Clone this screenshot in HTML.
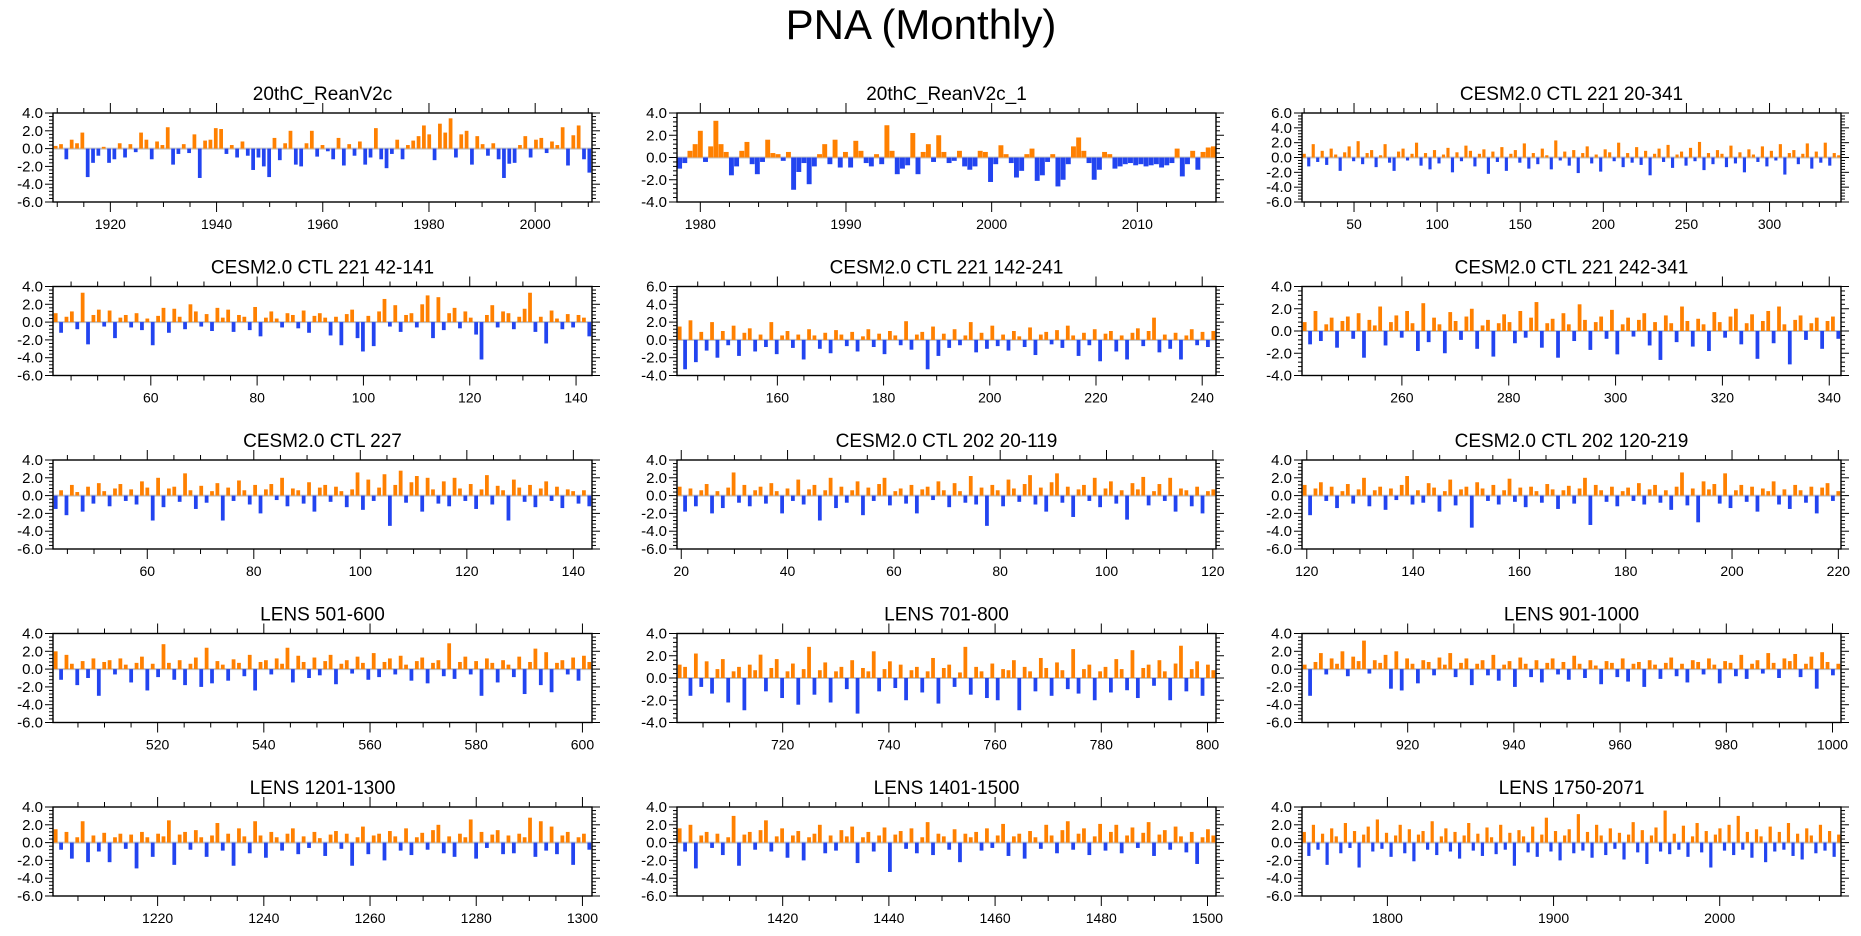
<!DOCTYPE html>
<html><head><meta charset="utf-8"><style>
html,body{margin:0;padding:0;background:#fff;}
svg{display:block;font-family:"Liberation Sans",Arial,sans-serif;}
</style></head><body>
<svg id="fig" width="1861" height="936" viewBox="0 0 1861 936" xmlns="http://www.w3.org/2000/svg">
<text x="921" y="39" font-size="42" text-anchor="middle" fill="#000">PNA (Monthly)</text>
</svg>
<script>
const titles = ["20thC_ReanV2c","20thC_ReanV2c_1","CESM2.0 CTL 221 20-341","CESM2.0 CTL 221 42-141","CESM2.0 CTL 221 142-241","CESM2.0 CTL 221 242-341","CESM2.0 CTL 227","CESM2.0 CTL 202 20-119","CESM2.0 CTL 202 120-219","LENS 501-600","LENS 701-800","LENS 901-1000","LENS 1201-1300","LENS 1401-1500","LENS 1750-2071"];
const xMins = [1909.2,1978.4,18.7,41.6,141.1,241.3,42.3,19.2,119.1,500.3,700.1,900.1,1200.3,1400.1,1748.6];
const xMaxs = [2010.7,2015.4,343,143,242.6,342.2,143.5,120.6,220.5,601.8,801.6,1001.6,1301.8,1501.6,2073];
const yMins = [-6,-4,-6,-6,-4,-4,-6,-6,-6,-6,-4,-6,-6,-6,-6];
const yMaxs = [4,4,6,4,6,4,4,4,4,4,4,4,4,4,4];
const xMajors = [20,10,50,20,20,20,20,20,20,20,20,20,20,20,100];
const xMinors = [5,2,10,5,5,5,5,5,5,5,5,5,5,5,20];
const series = [];
series[0] = [0.3,0.5,-1.2,1.0,0.6,1.8,-3.2,-1.6,-0.8,0.2,-1.6,-1.2,0.6,-1.0,0.5,-0.4,1.8,1.0,-1.2,0.8,0.4,2.4,-1.8,-0.6,0.5,-0.5,1.6,-3.3,0.9,1.0,2.3,2.2,-0.6,0.4,-1.0,0.8,-0.8,-2.4,-1.0,-2.0,-3.2,1.2,-1.3,0.6,2.0,-1.8,-2.0,0.6,2.0,-0.9,0.4,-0.3,-1.2,1.2,-1.9,0.5,-0.8,0.8,-1.8,-1.0,2.3,-1.2,-2.2,-0.6,1.0,-1.2,0.4,0.9,1.4,2.6,1.6,-1.3,2.8,1.8,3.4,-1.0,1.6,2.0,-1.8,1.4,0.5,-0.8,0.6,-1.2,-3.3,-1.7,-1.6,0.4,1.4,-1.0,1.0,1.2,-0.5,0.8,0.4,2.4,-1.9,1.5,2.6,-1.2,-2.7];
series[1] = [-1.0,-0.5,0.6,1.2,2.4,-0.4,1.0,3.3,1.2,0.5,-1.6,-0.8,0.6,1.4,-0.6,-1.5,-0.4,1.6,0.4,0.3,-0.3,0.5,-2.9,-1.3,-0.5,-2.4,-0.8,0.3,1.2,-0.6,1.6,-0.9,0.5,-0.9,1.5,0.6,-0.5,-0.8,0.3,-0.6,2.9,0.6,-1.5,-1.0,-0.7,2.2,-1.5,0.5,1.2,-0.4,2.0,0.5,-0.5,-0.3,0.6,-0.8,-1.1,-0.8,0.6,0.5,-2.2,-0.6,1.1,0.3,-0.5,-1.8,-1.2,0.3,0.8,-2.1,-1.6,-0.4,0.3,-2.6,-2.0,-0.6,1.0,1.8,0.6,-0.5,-2.0,-1.1,0.5,0.3,-1.0,-0.8,-0.6,-0.5,-0.7,-0.6,-0.8,-0.7,-0.6,-0.9,-0.7,-0.5,0.8,-1.7,-0.6,0.6,-1.1,0.5,0.9,1.0];
series[2] = [0.5,-1.2,1.8,-0.6,0.9,-1.0,1.2,0.4,-1.8,0.7,1.5,-0.5,2.2,-0.9,0.6,1.0,-1.3,0.3,1.8,-0.7,-1.8,0.8,1.2,-0.4,0.5,2.0,-1.1,0.6,-1.6,1.0,-0.8,0.4,1.3,-2.0,0.7,-0.5,1.6,0.9,-1.2,0.5,1.1,-2.2,0.8,-0.6,1.4,-1.8,0.5,1.0,-0.7,1.9,-1.5,0.6,-0.9,1.2,0.3,-1.6,2.3,-0.4,0.8,-1.1,1.0,-2.1,0.6,1.5,-0.8,0.4,-1.9,1.1,0.7,-0.5,2.0,-1.3,0.6,-0.7,1.4,-1.0,0.9,-2.4,0.5,1.2,-0.6,1.7,-1.4,0.4,0.8,-1.1,1.3,-0.5,2.1,-1.7,0.6,-0.9,1.0,0.5,-1.3,1.6,-0.8,0.7,-2.0,1.1,0.4,-0.6,1.5,-1.2,0.9,-0.4,1.8,-2.3,0.6,1.0,-0.9,0.5,1.9,-1.5,0.8,-0.7,2.0,-1.1,0.6,0.3];
series[3] = [1.0,-1.2,0.6,1.2,-0.8,3.3,-2.5,0.8,1.4,-0.5,1.3,-1.8,0.5,0.8,-0.6,1.0,-0.9,0.4,-2.6,0.7,1.6,-1.2,1.5,0.6,-0.8,2.0,1.2,-0.5,0.9,-1.0,1.6,0.5,1.4,-1.1,0.8,0.6,-0.9,1.7,-1.6,0.5,1.2,0.4,-0.6,1.0,0.8,-0.7,1.3,-1.2,0.7,1.0,0.5,-1.5,0.6,-2.6,0.9,1.4,-1.8,-3.3,0.7,-2.7,1.2,2.6,-0.5,1.9,-1.1,0.8,1.0,-0.6,2.0,3.0,-1.8,2.8,-0.9,1.0,1.6,-0.7,1.2,0.5,-1.4,-4.2,0.8,1.9,-0.6,1.2,1.0,-0.8,0.6,1.5,3.3,-1.1,0.6,-2.4,1.3,0.4,-0.8,0.9,-0.6,0.8,0.5,-1.6];
series[4] = [1.5,-3.3,2.2,-2.5,0.9,-1.2,2.0,-2.0,1.0,-0.6,1.6,-1.8,0.8,1.3,-1.3,0.6,-0.8,2.0,-1.6,0.5,1.0,-0.9,0.6,-2.2,1.2,0.5,-1.0,0.8,-1.5,1.1,0.6,-0.7,0.9,-1.3,0.4,1.2,-0.8,0.7,-1.6,1.0,0.5,-0.6,2.1,-1.1,0.6,0.9,-3.3,1.5,-1.8,0.7,-0.9,1.2,-0.6,0.5,2.0,-1.4,0.8,-1.0,1.6,-0.7,0.6,-1.2,1.0,0.4,-0.8,1.4,-1.7,0.6,0.9,-0.5,1.1,-0.9,1.6,0.5,-1.8,0.8,-0.6,1.2,-2.4,0.7,1.0,-1.3,0.5,-2.2,0.8,1.3,-0.7,1.0,2.5,-1.4,0.6,-1.0,0.8,-2.2,0.5,1.2,-0.6,0.9,-0.8,1.0];
series[5] = [0.8,-1.2,1.8,-0.9,0.6,1.2,-1.5,0.9,1.3,-0.7,1.6,-2.4,1.0,0.5,2.2,-1.3,0.8,1.4,-0.6,1.8,0.7,-1.8,2.5,-1.0,1.2,0.6,-2.0,1.7,0.9,-0.8,1.3,2.0,-1.6,0.5,1.0,-2.3,0.7,1.5,0.8,-1.1,1.8,-0.6,1.2,2.6,-1.5,0.7,1.1,-2.4,1.6,0.6,-0.9,2.4,1.0,-1.7,0.8,1.3,-0.7,1.9,-2.1,0.6,1.2,-0.5,1.0,1.6,-1.3,0.8,-2.6,1.4,0.7,-1.0,2.2,0.9,-1.4,1.1,0.6,-1.8,1.7,0.8,-0.6,1.3,2.0,-1.2,0.7,1.5,-2.5,0.9,1.8,-1.1,2.2,0.6,-3.0,1.0,1.4,-0.8,0.7,1.2,-1.6,0.9,1.3,-0.7];
series[6] = [-1.5,0.6,-2.2,1.2,0.4,-1.8,1.0,-0.9,1.4,0.5,-1.2,0.8,1.3,-0.6,0.7,-1.0,1.6,0.9,-2.8,2.0,-1.3,0.8,1.0,-0.7,2.5,0.6,-1.5,1.1,-0.8,0.5,1.4,-2.8,0.9,-0.6,1.7,0.6,-1.0,1.2,-2.0,0.7,1.3,-0.5,2.0,-1.2,0.8,0.6,-0.9,1.5,-1.8,0.9,1.2,-0.7,1.0,0.5,-1.3,0.7,2.6,-1.6,1.8,-0.6,0.9,2.4,-3.4,1.2,2.8,-0.8,1.5,2.2,-1.8,2.0,0.7,-0.9,1.6,-1.2,2.0,0.8,-0.6,1.3,-1.5,0.7,2.3,-1.0,1.1,0.6,-2.8,1.8,0.9,-0.7,1.2,-1.3,0.8,1.6,-0.6,1.0,-1.4,0.7,0.5,-0.9,0.6,-1.2];
series[7] = [1.0,-1.8,0.8,-1.2,0.6,1.3,-2.0,0.5,-1.4,0.9,2.6,-0.8,1.2,-1.2,0.6,1.0,-0.9,1.4,0.5,-2.0,0.8,-0.6,1.8,-1.0,0.7,1.2,-2.8,0.6,2.0,-1.4,1.0,-0.8,0.6,1.6,-2.2,0.9,-0.6,1.3,2.0,-1.1,0.5,0.8,-0.9,1.2,-2.0,0.7,1.0,-0.5,1.6,0.6,-1.3,1.4,0.5,-0.8,2.2,-1.0,0.9,-3.4,1.2,0.6,-1.2,1.8,0.8,-0.7,1.3,2.3,-1.0,0.9,-1.8,1.5,2.5,-0.8,1.0,-2.4,0.7,1.2,-0.6,2.0,-1.3,0.8,1.6,-0.9,0.6,-2.7,1.4,0.7,2.1,-1.1,0.5,1.3,-0.6,2.0,-1.8,0.8,0.6,-1.2,1.0,-2.0,0.5,0.7];
series[8] = [1.2,-2.2,0.8,1.5,-0.6,1.0,-1.4,0.5,1.3,-0.9,0.7,2.0,-1.2,0.6,1.0,-1.6,0.8,-0.5,1.2,2.2,-1.0,0.6,-0.8,1.4,0.9,-1.8,0.5,1.8,-1.1,0.7,1.0,-3.6,1.5,0.8,-0.6,1.2,-1.0,0.6,1.9,-0.7,0.9,-1.3,1.0,0.5,-0.8,1.3,0.7,-1.5,0.6,1.1,-0.9,0.8,2.0,-3.3,1.2,0.6,-0.7,1.0,-1.2,0.5,0.9,-0.6,1.4,-1.0,0.7,1.2,-0.8,0.6,-1.6,1.0,2.6,-1.1,0.8,-3.0,1.6,0.7,1.3,-0.9,2.5,-1.4,0.6,1.2,-0.7,1.0,-1.8,0.8,0.5,1.6,-1.0,0.7,-1.5,1.2,0.6,-0.8,1.0,-2.0,0.9,1.4,-0.6,0.5];
series[9] = [2.0,-1.2,1.6,0.6,-1.8,0.9,-1.0,1.2,-3.0,0.8,1.0,-0.6,1.2,0.5,-1.5,0.7,1.4,-2.4,0.6,-0.9,2.8,0.7,-1.2,1.0,-1.8,0.6,1.3,-2.0,2.4,-1.6,0.9,0.5,-1.3,1.1,0.7,-0.8,1.6,-2.4,0.8,1.0,-0.6,1.2,0.6,2.4,-1.5,1.5,0.8,-1.0,1.3,-0.7,0.9,1.6,-1.7,0.6,1.0,-0.5,1.4,0.7,-1.2,1.8,-0.9,0.8,1.2,-0.6,1.5,0.5,-1.3,0.9,1.3,-1.6,0.7,1.0,-0.8,2.9,-1.1,0.8,1.4,-0.6,0.9,-3.0,1.2,0.7,-1.5,1.0,0.5,-0.9,1.4,-2.8,0.8,2.3,-1.8,1.9,-2.6,0.7,1.0,-0.6,1.3,-1.3,1.5,0.8];
series[10] = [1.2,1.0,-1.6,2.2,-0.8,1.5,-1.4,0.8,1.7,-2.2,0.6,1.0,-2.9,1.2,0.7,2.1,-1.2,0.9,1.7,-1.8,0.6,1.3,-2.4,0.8,2.8,-1.5,0.7,1.4,-2.2,0.6,1.0,-1.0,1.6,-3.2,0.9,0.6,2.4,-1.2,0.8,1.5,-0.9,1.2,-2.0,0.7,1.0,-1.3,0.6,1.8,-2.3,0.9,1.2,-0.8,0.5,2.8,-1.5,1.0,0.6,-1.8,1.3,-2.0,0.8,0.7,1.6,-2.9,1.0,0.6,-1.2,1.8,0.9,-1.6,1.4,0.7,-1.0,2.6,-1.4,0.8,1.2,-2.0,0.6,1.0,-1.3,1.7,0.8,-1.1,2.5,-1.8,0.9,1.2,-0.7,1.6,0.6,-2.0,1.3,2.9,-1.2,0.8,1.5,-1.6,1.2,0.7];
series[11] = [0.5,-3.0,0.8,1.8,-0.6,1.2,0.6,2.0,-0.8,1.4,0.9,3.2,-0.5,1.0,0.7,1.6,-2.2,2.0,-2.4,1.2,0.6,-1.6,1.0,0.8,-0.7,1.3,0.5,1.8,-0.9,0.7,1.2,-1.8,0.6,1.0,-0.7,1.6,-1.3,0.5,0.9,-2.0,1.3,0.6,-0.9,1.0,-1.5,0.7,1.2,-0.6,0.8,-1.2,1.5,0.6,-1.0,1.0,0.4,-1.7,0.9,0.7,-0.9,1.2,-1.4,0.6,0.8,-2.0,1.0,0.5,-1.1,0.7,1.3,-0.8,0.6,-1.5,1.0,0.8,-0.6,1.2,0.5,-1.6,0.9,0.7,-0.8,1.6,-1.1,0.6,1.0,-0.5,1.8,0.7,-1.0,1.2,0.9,1.7,-0.9,0.6,1.4,-2.2,1.9,0.8,-0.7,0.6];
series[12] = [1.5,-0.8,1.2,-1.8,0.6,2.4,-2.2,0.8,-1.0,1.1,-2.2,0.6,1.0,-0.7,0.9,-2.9,1.2,0.6,-1.6,1.0,0.7,2.5,-2.5,0.9,1.2,-0.8,1.4,0.6,-1.6,0.8,2.2,-0.9,1.0,-2.6,1.6,0.7,-1.2,2.4,0.8,-1.7,1.2,0.6,-0.9,1.0,1.6,-1.3,0.7,-0.6,1.2,0.5,-1.5,0.9,1.3,-0.7,1.0,-2.6,0.6,1.8,-1.3,0.8,1.0,-2.0,1.3,0.7,-0.9,1.6,-1.4,0.6,1.1,-0.8,1.4,2.0,-1.2,0.7,-1.6,1.0,0.6,2.6,-1.8,1.2,-0.6,0.9,1.4,-1.3,0.8,-1.2,1.0,0.6,2.8,-1.6,2.4,-0.9,1.8,-1.3,0.8,1.2,-2.5,0.6,1.0,-0.8];
series[13] = [1.6,-1.0,2.0,-2.9,0.8,1.2,-0.6,1.0,-1.4,0.6,3.0,-2.6,0.9,1.2,-0.8,1.4,2.5,-1.0,0.7,1.6,-1.7,0.8,1.3,-2.0,0.6,1.0,2.0,-1.2,0.8,-0.9,1.4,0.7,1.8,-2.3,0.6,1.2,-1.0,0.8,1.7,-3.3,0.9,1.3,-0.7,1.6,-1.2,0.6,2.3,-1.4,1.0,0.7,-0.8,1.5,-2.2,1.0,0.6,1.2,-0.9,1.6,-0.6,0.8,2.1,-1.5,0.7,1.0,-1.8,1.3,0.6,-0.7,2.0,0.8,-1.2,1.4,2.4,-0.8,1.0,1.6,-1.4,0.7,2.1,-0.9,1.2,2.0,-1.2,0.8,1.7,-0.6,1.1,2.3,-1.5,0.9,1.4,-0.8,1.8,0.7,-1.1,1.2,-2.4,0.6,1.5,0.8];
series[14] = [1.2,-1.5,2.0,-0.8,1.0,-2.5,1.6,0.7,-1.2,2.2,-0.6,1.3,-2.8,0.9,1.8,-1.0,2.6,-0.7,1.1,-1.6,0.8,2.0,-1.2,1.5,-2.1,0.9,1.3,-0.8,2.4,-1.4,0.7,1.6,-1.0,1.2,-1.8,0.8,2.2,-0.9,1.0,-1.5,1.7,0.6,-1.3,2.0,-0.8,1.1,-2.6,1.4,0.7,-1.1,1.8,-1.6,0.9,2.8,-1.0,1.3,-2.0,0.8,1.5,-1.2,3.2,-0.9,1.2,-1.7,2.0,0.8,-1.4,1.6,-0.7,1.1,-1.9,0.9,2.3,-1.1,1.4,-2.4,0.8,1.7,-1.0,3.6,-1.3,1.0,-0.8,1.9,-1.6,0.7,2.2,-1.1,1.3,-2.8,0.9,1.6,-0.9,2.0,-1.4,3.0,-0.8,1.2,-1.7,1.5,0.7,-2.2,1.8,-1.0,1.2,-0.8,2.2,-1.5,1.0,-1.9,1.6,0.8,-1.2,2.0,-0.9,1.3,-1.6,0.9];

const NS = "http://www.w3.org/2000/svg";
const svg = document.getElementById('fig');
const colLeft = [53, 677, 1302], plotW = 539, plotH = 89;
const rowTop = [113, 286.5, 460, 633.5, 807];
function mk(tag, attrs, parent){ const e=document.createElementNS(NS,tag); for(const k in attrs) e.setAttribute(k,attrs[k]); (parent||svg).appendChild(e); return e; }
function fmt(v){ return v.toFixed(1); }

for (let p=0; p<15; p++){
  const L = colLeft[p%3], T = rowTop[Math.floor(p/3)];
  const x0=xMins[p], x1=xMaxs[p], y0=yMins[p], y1=yMaxs[p];
  const sx = v => L + (v-x0)/(x1-x0)*plotW;
  const sy = v => T + (y1-v)/(y1-y0)*plotH;
  const g = mk('g',{});
  
  
  const t = mk('text',{x:L+plotW/2,y:T-13,'font-size':19,'text-anchor':'middle',fill:'#000'},g);
  t.textContent = titles[p];
  
  
  const z = mk('line',{x1:L,x2:L+plotW,y1:sy(0),y2:sy(0),stroke:'#c4c4c4','stroke-width':2},g);
  
  
  const vals = series[p], n = vals.length, span = (x1-x0);
  const slot = plotW/n;
  const frac = (p===1) ? 0.95 : 0.7;
  for (let i=0;i<n;i++){
    const xc = x0 + (i+0.5)*span/n;
    const v = vals[i];
    const yTop = sy(Math.max(v,0)), yBot = sy(Math.min(v,0));
    const r = mk('rect',{x:(sx(xc)-slot*frac/2).toFixed(2),y:yTop.toFixed(2),width:(slot*frac).toFixed(2),height:Math.max(0.5,yBot-yTop).toFixed(2),fill:v>=0?'#ff8000':'#2244f0'},g);
    
    
  }
  const f = mk('rect',{x:L,y:T,width:plotW,height:plotH,fill:'none',stroke:'#000','stroke-width':1.4},g);
  
  
  const mj = xMajors[p], mn = xMinors[p];
  for (let v=Math.ceil(x0/mn)*mn; v<=x1; v+=mn){
    const isMaj = Math.abs(v/mj - Math.round(v/mj))<1e-6;
    const len = isMaj?10:5, X=sx(v);
    mk('line',{x1:X,x2:X,y1:T+plotH,y2:T+plotH+len,stroke:'#000','stroke-width':1},g);
    mk('line',{x1:X,x2:X,y1:T,y2:T-len,stroke:'#000','stroke-width':1},g);
    if (isMaj){
      const lt = mk('text',{x:X,y:T+plotH+27,'font-size':14,'text-anchor':'middle',fill:'#000'},g);
      lt.textContent = String(Math.round(v));
      
      
    }
  }
  for (let k=0; k<=Math.round((y1-y0)/0.4); k++){
    const v = y0 + k*0.4;
    const isMaj = Math.abs(v/2 - Math.round(v/2))<1e-6;
    const len = isMaj?8:4, Y=sy(v);
    mk('line',{x1:L,x2:L-len,y1:Y,y2:Y,stroke:'#000','stroke-width':1},g);
    mk('line',{x1:L+plotW,x2:L+plotW+len,y1:Y,y2:Y,stroke:'#000','stroke-width':1},g);
    if (isMaj){
      const lt = mk('text',{x:L-10,y:Y+5,'font-size':15,'text-anchor':'end',fill:'#000'},g);
      lt.textContent = fmt(Math.round(v*10)/10);
      
      
    }
  }
}
</script>
</body></html>
